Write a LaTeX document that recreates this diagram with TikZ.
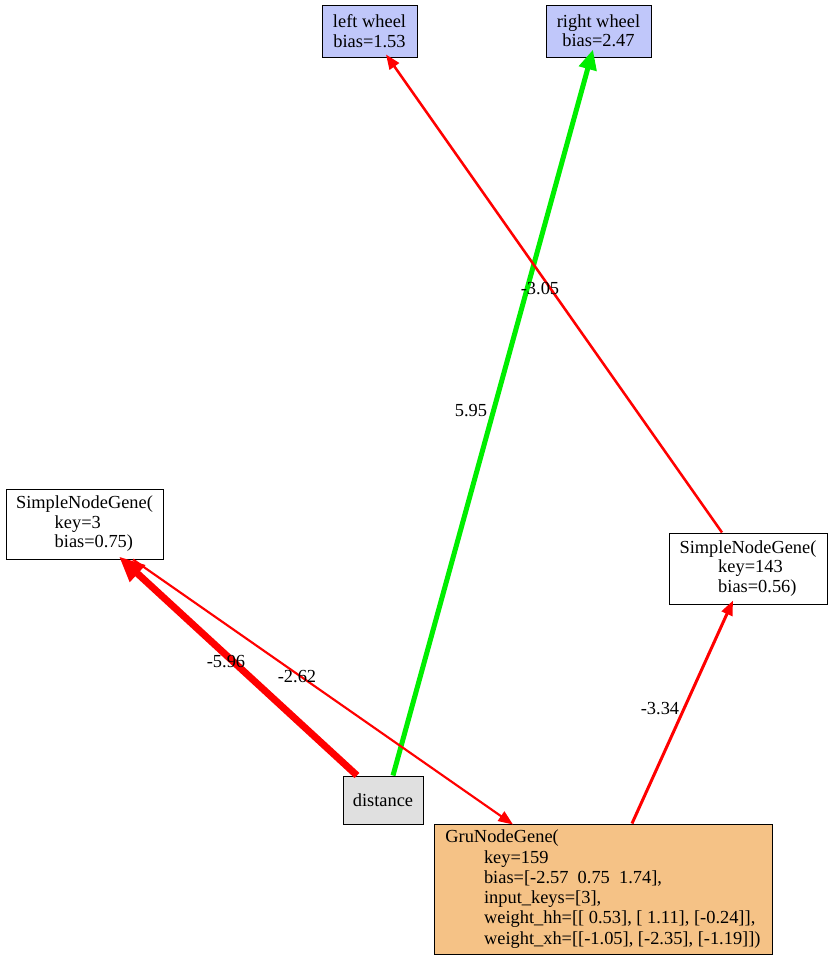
\documentclass[tikz,border=0pt]{standalone}
\usepackage{fontspec}
\setmainfont{Liberation Serif}
\usetikzlibrary{arrows.meta,calc}
\definecolor{inblue}{HTML}{C0C7FA}
\definecolor{grufill}{HTML}{F5C286}
\definecolor{infill}{HTML}{E0E0E0}
\definecolor{posgreen}{HTML}{00EE00}
\definecolor{negred}{HTML}{FF0000}
\begin{document}
\begin{tikzpicture}[x=0.75pt,y=-0.75pt,
  box/.style={draw=black, line width=0.75pt, inner sep=0pt, font=\fontsize{13.8}{14.6}\selectfont},
  lbl/.style={inner sep=0pt, font=\fontsize{13.8}{14.6}\selectfont},
  thinarrow/.style={-{Triangle[length=11pt,width=8.5pt]}},
  negedge/.style={draw=negred},
  posedge/.style={draw=posgreen}]
\useasboundingbox (0,0) rectangle (832,960);
% nodes
\node[box, fill=inblue, align=center, minimum width=71.25pt, minimum height=39pt] (lw) at (369.5,31) {left wheel\\bias=1.53};
\node[box, fill=inblue, align=center, minimum width=78.75pt, minimum height=39pt] (rw) at (598.5,31) {right wheel\\bias=2.47};
\node[box, fill=white, align=left, minimum width=117.75pt, minimum height=52.5pt] (k3) at (84.5,524) {SimpleNodeGene(\\\hspace*{29pt}key=3\\\hspace*{29pt}bias=0.75)};
\node[box, fill=white, align=left, minimum width=118.5pt, minimum height=53.25pt] (k143) at (748,568.5) {SimpleNodeGene(\\\hspace*{29pt}key=143\\\hspace*{29pt}bias=0.56)};
\node[box, fill=infill, align=center, minimum width=60pt, minimum height=36pt] (dist) at (383,800) {distance};
\node[box, fill=grufill, align=left, minimum width=253.5pt, minimum height=97.5pt, font=\fontsize{13.8}{15.2}\selectfont] (gru) at (603,889) {GruNodeGene(\\
\hspace*{29pt}key=159\\
\hspace*{29pt}bias=[-2.57\ \ 0.75\ \ 1.74],\\
\hspace*{29pt}input\_keys=[3],\\
\hspace*{29pt}weight\_hh=[[\ 0.53], [\ 1.11], [-0.24]],\\
\hspace*{29pt}weight\_xh=[[-1.05], [-2.35], [-1.19]])};
% edges
\draw[posedge, line width=3.75pt, -{Triangle[length=15pt,width=13pt]}] ($(dist.north)+(10,0)$) -- ($(rw.south)+(-5.5,-8)$);
\draw[negedge, line width=1.9pt, thinarrow] ($(k143.north)+(-26,0)$) -- ($(lw.south)+(16.5,-3)$);
\draw[negedge, line width=5.25pt, -{Triangle[length=19pt,width=16pt]}] ($(dist.north)+(-26,0)$) -- ($(k3.south)+(34.5,-3)$);
\draw[negedge, line width=1.6pt, thinarrow] ($(k3.south)+(48.5,0)$) -- ($(gru.north)+(-90,1)$);
\draw[negedge, line width=2.25pt, thinarrow] ($(gru.north)+(29,0)$) -- ($(k143.south)+(-15,-4)$);
% labels
\node[lbl] (l1) at (471,411) {5.95};
\node[lbl] (l2) at (540,289) {-3.05};
\node[lbl] (l3) at (226,662) {-5.96};
\node[lbl] (l4) at (297,677) {-2.62};
\node[lbl] (l5) at (660,709) {-3.34};
\end{tikzpicture}
\end{document}
